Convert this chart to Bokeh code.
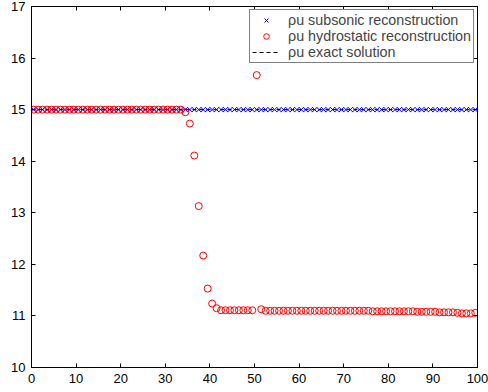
from bokeh.plotting import figure
from bokeh.models import Range1d, LinearAxis, FixedTicker, Legend, LegendItem
from bokeh.embed import file_html
from bokeh.resources import INLINE

# cell centres of the 100-cell grid on [0, 100]
x_cells = [0.5 + i for i in range(100)]

# momentum rho*u, subsonic reconstruction
rhou_subsonic = [
    15.0, 15.0, 15.0, 15.0, 15.0, 15.0, 15.0, 15.0, 15.0, 15.0,
    15.0, 15.0, 15.0, 15.0, 15.0, 15.0, 15.0, 15.0, 15.0, 15.0,
    15.0, 15.0, 15.0, 15.0, 15.0, 15.0, 15.0, 15.0, 15.0, 15.0,
    15.0, 15.0, 15.0, 15.0, 15.0, 15.0, 15.0, 15.0, 15.0, 15.0,
    15.0, 15.0, 15.0, 15.0, 15.0, 15.0, 15.0, 15.0, 15.0, 15.0,
    15.0, 15.0, 15.0, 15.0, 15.0, 15.0, 15.0, 15.0, 15.0, 15.0,
    15.0, 15.0, 15.0, 15.0, 15.0, 15.0, 15.0, 15.0, 15.0, 15.0,
    15.0, 15.0, 15.0, 15.0, 15.0, 15.0, 15.0, 15.0, 15.0, 15.0,
    15.0, 15.0, 15.0, 15.0, 15.0, 15.0, 15.0, 15.0, 15.0, 15.0,
    15.0, 15.0, 15.0, 15.0, 15.0, 15.0, 15.0, 15.0, 15.0, 15.0,
]

# momentum rho*u, hydrostatic reconstruction
rhou_hydrostatic = [
    15.0, 15.0, 15.0, 15.0, 15.0, 15.0, 15.0, 15.0, 15.0, 15.0,
    15.0, 15.0, 15.0, 15.0, 15.0, 15.0, 15.0, 15.0, 15.0, 15.0,
    15.0, 15.0, 15.0, 15.0, 15.0, 15.0, 15.0, 15.0, 15.0, 15.0,
    15.0, 15.0, 15.0, 15.0, 14.95, 14.73, 14.11, 13.13, 12.17, 11.53,
    11.24, 11.15, 11.11, 11.11, 11.11, 11.11, 11.11, 11.11, 11.11, 11.11,
    15.67, 11.13, 11.10, 11.10, 11.10, 11.10, 11.10, 11.10, 11.10, 11.10,
    11.10, 11.10, 11.10, 11.10, 11.10, 11.10, 11.10, 11.10, 11.10, 11.10,
    11.10, 11.10, 11.10, 11.10, 11.10, 11.10, 11.09, 11.09, 11.09, 11.09,
    11.09, 11.09, 11.09, 11.09, 11.09, 11.09, 11.08, 11.08, 11.08, 11.08,
    11.08, 11.07, 11.07, 11.07, 11.07, 11.06, 11.05, 11.05, 11.05, 11.06,
]

# exact steady-state momentum
x_exact = [0, 100]
rhou_exact = [15.0, 15.0]

x_ticks = [0, 10, 20, 30, 40, 50, 60, 70, 80, 90, 100]
y_ticks = [10, 11, 12, 13, 14, 15, 16, 17]

FONT = "Liberation Sans"

p = figure(
    width=488, height=392,
    output_backend="svg", toolbar_location=None,
    x_range=Range1d(0, 100), y_range=Range1d(10, 17),
    x_axis_type=None, y_axis_type=None,
    min_border_left=31, min_border_right=11,
    min_border_top=6, min_border_bottom=25,
)
p.background_fill_color = "white"
p.border_fill_color = "white"
p.outline_line_color = "black"
p.outline_line_width = 1
p.xgrid.visible = False
p.ygrid.visible = False


def styled_axis(ticks, show_labels):
    ax = LinearAxis(ticker=FixedTicker(ticks=ticks))
    ax.axis_line_color = "black"
    ax.axis_line_width = 1
    ax.major_tick_line_color = "black"
    ax.major_tick_in = 4
    ax.major_tick_out = 0
    ax.minor_tick_line_color = None
    ax.major_label_text_font = FONT
    ax.major_label_text_font_size = "13px"
    if show_labels:
        ax.major_label_text_color = "black"
        ax.major_label_standoff = 6
    else:
        # the opposite sides of the box carry ticks only
        ax.major_label_text_color = None
        ax.major_label_standoff = 0
    return ax


p.add_layout(styled_axis(x_ticks, True), "below")
p.add_layout(styled_axis(y_ticks, True), "left")
p.add_layout(styled_axis(x_ticks, False), "above")
p.add_layout(styled_axis(y_ticks, False), "right")

r_sub = p.scatter(x_cells, rhou_subsonic, marker="x", size=7,
                  line_color="#0000ff", line_width=1)
r_hyd = p.scatter(x_cells, rhou_hydrostatic, marker="circle", size=7,
                  fill_color=None, line_color="#ff0000", line_width=1)
r_ex = p.line(x_exact, rhou_exact, line_color="black", line_width=1,
              line_dash="4 3")

legend = Legend(
    items=[
        LegendItem(label="\u03c1u subsonic reconstruction", renderers=[r_sub]),
        LegendItem(label="\u03c1u hydrostatic reconstruction", renderers=[r_hyd]),
        LegendItem(label="\u03c1u exact solution", renderers=[r_ex]),
    ],
    location="top_right",
    margin=3,
    padding=2,
    spacing=0,
    glyph_width=28,
    glyph_height=14,
    label_height=14,
    label_standoff=8,
    label_text_font=FONT,
    label_text_font_size="14.3px",
    border_line_color="black",
    border_line_width=1,
    background_fill_color="white",
    background_fill_alpha=1.0,
)
p.add_layout(legend)

open("out.html", "w").write(file_html(p, INLINE))
